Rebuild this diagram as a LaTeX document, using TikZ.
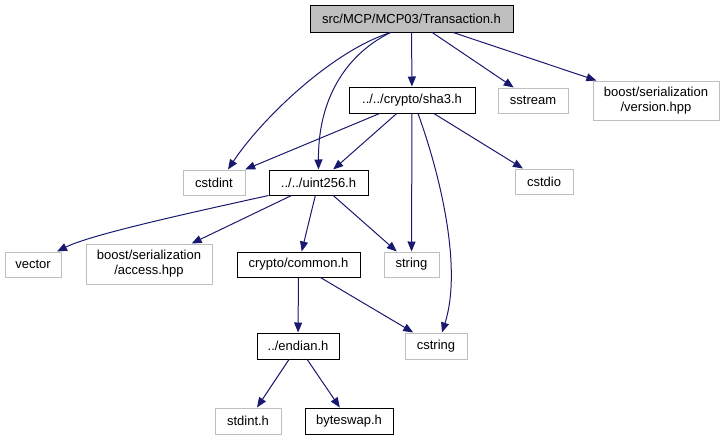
\documentclass[tikz,border=0pt]{standalone}
\usepackage{fontspec}
\setmainfont{Liberation Sans}
\usetikzlibrary{arrows.meta}
\definecolor{edgeblue}{HTML}{191970}
\definecolor{greyline}{HTML}{BFBFBF}
\begin{document}
\begin{tikzpicture}[x=1pt,y=-1pt,
  box/.style={draw=black,line width=1pt,inner sep=0pt,align=center,
    font=\fontsize{13}{15}\selectfont,fill=white},
  ext/.style={box,draw=greyline},
  root/.style={box,fill=greyline},
  dep/.style={draw=edgeblue,line width=1pt,-{Triangle[length=10pt,width=8pt]}}]
\useasboundingbox (0,0) rectangle (725,440);
\node[root,minimum width=203pt,minimum height=27pt] (trans) at (411.5,18.5) {src/MCP/MCP03/Transaction.h};
\node[box,minimum width=126pt,minimum height=26pt] (sha3) at (412,100) {../../crypto/sha3.h};
\node[ext,minimum width=70pt,minimum height=25pt] (sstream) at (533,100.5) {sstream};
\node[ext,minimum width=126pt,minimum height=39pt] (version) at (656,100.5) {boost/serialization\\/version.hpp};
\node[ext,minimum width=62pt,minimum height=25pt] (cstdint) at (214,182.5) {cstdint};
\node[box,minimum width=99pt,minimum height=25pt] (uint) at (318.5,182.5) {../../uint256.h};
\node[ext,minimum width=58pt,minimum height=25pt] (cstdio) at (544,181.5) {cstdio};
\node[ext,minimum width=56pt,minimum height=25pt] (vector) at (33,264.5) {vector};
\node[ext,minimum width=126pt,minimum height=40pt] (access) at (149,264) {boost/serialization\\/access.hpp};
\node[box,minimum width=123pt,minimum height=25pt] (common) at (298.5,264.5) {crypto/common.h};
\node[ext,minimum width=55pt,minimum height=25pt] (string) at (411.5,264.5) {string};
\node[box,minimum width=82pt,minimum height=26pt] (endian) at (298,346) {../endian.h};
\node[ext,minimum width=62pt,minimum height=26pt] (cstring) at (436,346) {cstring};
\node[ext,minimum width=66pt,minimum height=26pt] (stdint) at (248,421) {stdint.h};
\node[box,minimum width=88pt,minimum height=26pt] (byteswap) at (349,421) {byteswap.h};

\draw[dep] (trans) -- (sha3);
\draw[dep] (trans) -- (sstream);
\draw[dep] (trans) -- (version);
\draw[dep] ([xshift=-21pt]trans.south) .. controls (330,52) and (260,121) .. ([xshift=14pt]cstdint.north);
\draw[dep] ([xshift=-21pt]trans.south) .. controls (345,55) and (318,100) .. (uint.north);
\draw[dep] (sha3) -- (cstdint);
\draw[dep] (sha3) -- (uint);
\draw[dep] (sha3) -- (string);
\draw[dep] (sha3) -- (cstdio);
\draw[dep] ([xshift=6pt]sha3.south) .. controls (442,180) and (462,270) .. ([xshift=6pt]cstring.north);
\draw[dep] (uint.south west) .. controls (180,215) and (90,235) .. ([xshift=24pt]vector.north);
\draw[dep] (uint) -- (access);
\draw[dep] (uint) -- (common);
\draw[dep] (uint) -- (string);
\draw[dep] (common) -- (endian);
\draw[dep] (common) -- (cstring);
\draw[dep] (endian) -- (stdint);
\draw[dep] (endian) -- (byteswap);
\end{tikzpicture}
\end{document}
